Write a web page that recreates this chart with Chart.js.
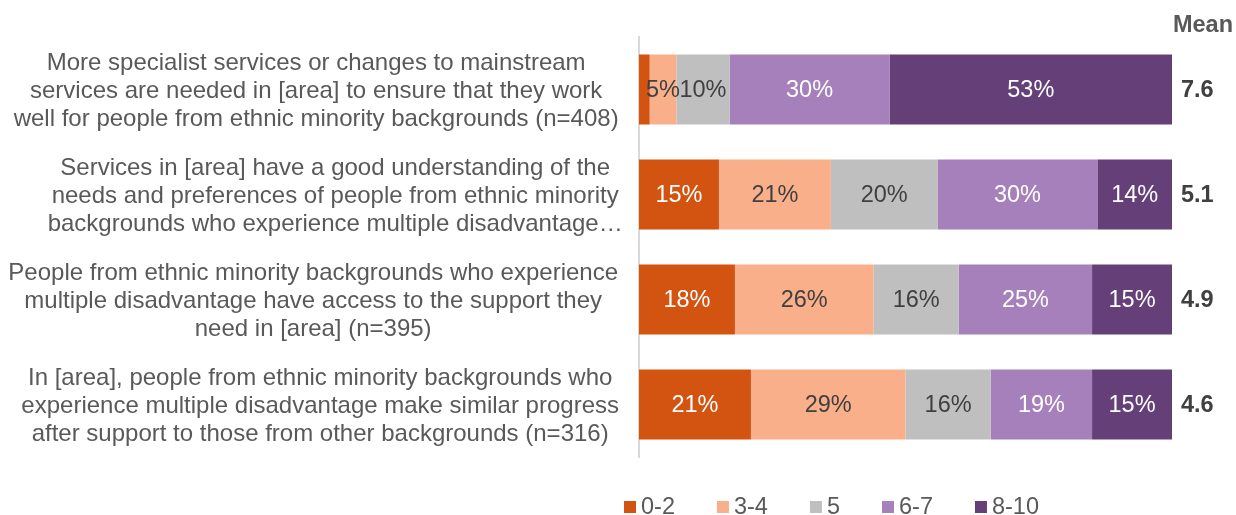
<!DOCTYPE html>
<html>
<head>
<meta charset="utf-8">
<script src="https://cdn.jsdelivr.net/npm/chart.js@4.4.1/dist/chart.umd.min.js"></script>
<style>
  html, body { margin: 0; padding: 0; background: #fff; }
  #wrap { width: 1236px; height: 515px; position: relative; }
</style>
</head>
<body>
<div id="wrap"><canvas id="chart"></canvas></div>
<script>
// survey statements (already wrapped into lines)
const statements = [
  ['More specialist services or changes to mainstream', 'services are needed in [area] to ensure that they work', 'well for people from ethnic minority backgrounds (n=408)'],
  ['Services in [area] have a good understanding of the', 'needs and preferences of people from ethnic minority', 'backgrounds who experience multiple disadvantage…'],
  ['People from ethnic minority backgrounds who experience', 'multiple disadvantage have access to the support they', 'need in [area] (n=395)'],
  ['In [area], people from ethnic minority backgrounds who', 'experience multiple disadvantage make similar progress', 'after support to those from other backgrounds (n=316)']
];
const scoreBands = ['0-2', '3-4', '5', '6-7', '8-10'];

// % of respondents in each score band
const share02 = [2, 15, 18, 21];
const share34 = [5, 21, 26, 29];
const share5 = [10, 20, 16, 16];
const share67 = [30, 30, 25, 19];
const share810 = [53, 14, 15, 15];
const meanScores = ['7.6', '5.1', '4.9', '4.6'];

const FONT = '"Liberation Sans", Arial, sans-serif';
const bandColors = ['#D35410', '#F8AF8A', '#BFBFBF', '#A680BA', '#643F78'];
const textColors = ['#ffffff', '#404040', '#404040', '#ffffff', '#ffffff'];
// small horizontal shifts of the wrapped statement blocks (px)
const labelNudge = [3, 22, 0, 7];

// percentage text in the middle of each segment
const segmentLabels = {
  id: 'segmentLabels',
  afterDatasetsDraw(chart) {
    const ctx = chart.ctx;
    ctx.save();
    ctx.font = '23.5px ' + FONT;
    ctx.textAlign = 'center';
    ctx.textBaseline = 'middle';
    chart.data.datasets.forEach((ds, i) => {
      chart.getDatasetMeta(i).data.forEach((bar, j) => {
        const v = ds.data[j];
        if (v < 3) return; // too thin to label
        ctx.fillStyle = ds.labelColor;
        ctx.fillText(v + '%', (bar.x + bar.base) / 2, bar.y + 1);
      });
    });
    ctx.restore();
  }
};

// shift the y tick label blocks a little before the axis paints them
const nudgeTickLabels = {
  id: 'nudgeTickLabels',
  beforeDraw(chart) {
    const items = chart.scales.y.getLabelItems();
    if (items._nudged) return;
    items.forEach((item, i) => {
      item.options.translation[0] += labelNudge[i] || 0;
      item.options.translation[1] += 2;
    });
    items._nudged = true;
  }
};

// "Mean" column on the right of the bars
const meanColumn = {
  id: 'meanColumn',
  afterDraw(chart) {
    const ctx = chart.ctx;
    const area = chart.chartArea;
    const yScale = chart.scales.y;
    ctx.save();
    ctx.font = 'bold 23.5px ' + FONT;
    ctx.fillStyle = '#595959';
    ctx.textBaseline = 'middle';
    ctx.textAlign = 'right';
    ctx.fillText('Mean', chart.width - 3, 26);
    ctx.textAlign = 'left';
    ctx.fillStyle = '#404040';
    meanScores.forEach((m, i) => {
      ctx.fillText(m, area.right + 9, yScale.getPixelForValue(i) + 1);
    });
    ctx.restore();
  }
};

// legend row along the bottom
const bottomLegend = {
  id: 'bottomLegend',
  afterDraw(chart) {
    const ctx = chart.ctx;
    const box = 12, gap = 5, spacing = 42;
    const y = 507;
    ctx.save();
    ctx.font = '23.5px ' + FONT;
    ctx.textBaseline = 'middle';
    ctx.textAlign = 'left';
    let x = chart.chartArea.left - 15;
    chart.data.datasets.forEach(ds => {
      ctx.fillStyle = ds.backgroundColor;
      ctx.fillRect(x, y - box / 2, box, box);
      ctx.fillStyle = '#595959';
      ctx.fillText(ds.label, x + box + gap, y + 1);
      x += box + gap + ctx.measureText(ds.label).width + spacing;
    });
    ctx.restore();
  }
};

const seriesValues = [share02, share34, share5, share67, share810];

new Chart(document.getElementById('chart'), {
  type: 'bar',
  data: {
    labels: statements,
    datasets: scoreBands.map((band, i) => ({
      label: band,
      data: seriesValues[i],
      backgroundColor: bandColors[i],
      labelColor: textColors[i],
      borderWidth: 0,
      barPercentage: 1,
      categoryPercentage: 0.667
    }))
  },
  options: {
    indexAxis: 'y',
    responsive: true,
    maintainAspectRatio: false,
    animation: false,
    layout: { padding: { top: 37, right: 64, bottom: 58, left: 0 } },
    plugins: {
      legend: { display: false },
      tooltip: { enabled: false }
    },
    scales: {
      x: {
        stacked: true,
        min: 0,
        max: 100,
        display: false
      },
      y: {
        stacked: true,
        grid: { display: false, drawTicks: false },
        border: { display: true, color: '#D9D9D9', width: 2 },
        ticks: {
          crossAlign: 'center',
          padding: 21,
          color: '#595959',
          font: { family: FONT, size: 24, lineHeight: 28 / 24 }
        },
        afterFit(scale) {
          scale.width = 639;
          // the tall wrapped labels should not push the plot area inward
          scale.paddingTop = 0;
          scale.paddingBottom = 0;
        }
      }
    }
  },
  plugins: [segmentLabels, nudgeTickLabels, meanColumn, bottomLegend]
});
</script>
</body>
</html>
